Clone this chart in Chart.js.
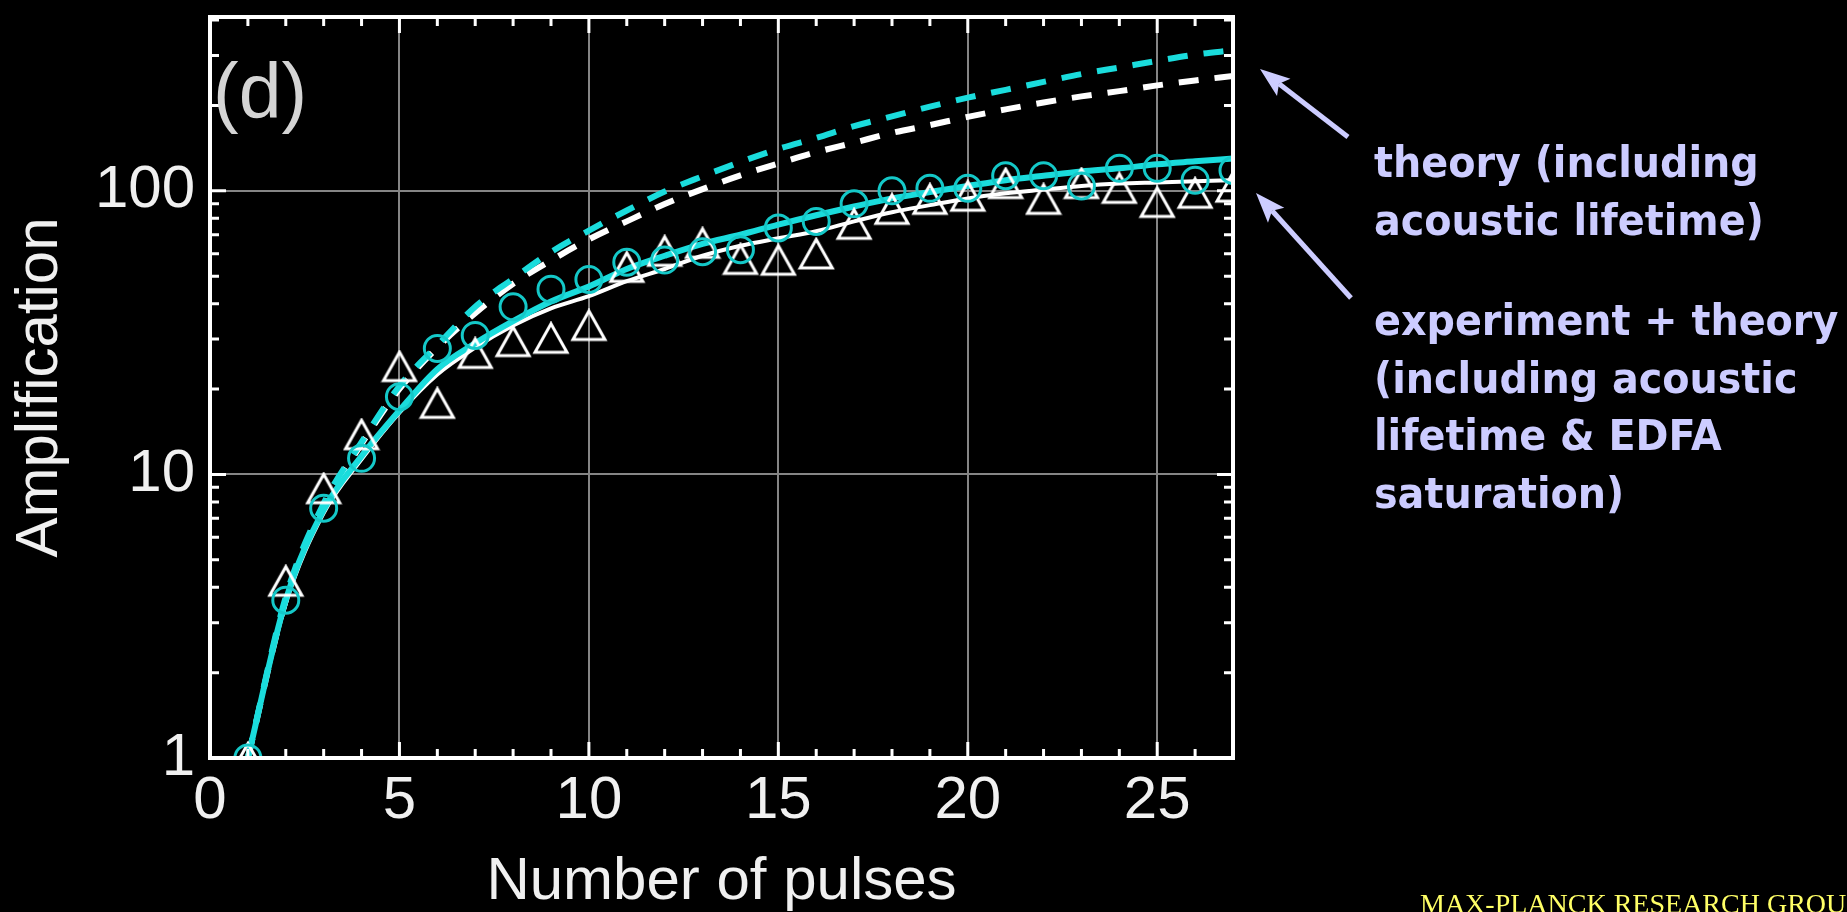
<!DOCTYPE html>
<html>
<head>
<meta charset="utf-8">
<title>Amplification vs number of pulses</title>
<script src="https://cdn.jsdelivr.net/npm/chart.js@4.4.1/dist/chart.umd.min.js"></script>
<style>
  html, body { margin: 0; padding: 0; background: #000; overflow: hidden; }
  #wrap { position: relative; width: 1847px; height: 912px; overflow: hidden; }
  #myChart { position: absolute; left: 0; top: 0; }
  .panel-tag {
    position: absolute; left: 213px; top: 53px;
    font-family: 'Liberation Sans', Arial, sans-serif; font-size: 77px; line-height: 77px;
    color: #d4d4d4;
  }
  .note {
    position: absolute; left: 1374px;
    font-family: 'DejaVu Sans', sans-serif; font-weight: bold;
    font-size: 42px; line-height: 57.5px; color: #ccccff;
    white-space: nowrap; transform: scaleX(0.945); transform-origin: 0 0;
  }
  .footer {
    position: absolute; left: 1420px; top: 890px;
    font-family: 'Liberation Serif', serif; font-size: 28px; line-height: 28px;
    color: #ffff66; white-space: nowrap;
  }
</style>
</head>
<body>
<div id="wrap">
  <canvas id="myChart" width="1847" height="912"></canvas>
  <div class="panel-tag">(d)</div>
  <div class="note" style="top:134px">theory (including<br>acoustic lifetime)</div>
  <div class="note" style="top:292px">experiment + theory<br>(including acoustic<br>lifetime &amp; EDFA<br>saturation)</div>
  <div class="footer">MAX-PLANCK RESEARCH GROUP</div>
</div>
<script>
// ------------------   DATA   ----------------
const pulses = [1, 2, 3, 4, 5, 6, 7, 8, 9, 10, 11, 12, 13, 14, 15, 16, 17, 18, 19, 20, 21, 22, 23, 24, 25, 26, 27];

// theory, acoustic lifetime only (dashed)
const theoryCyan = [1, 3.7, 7.9, 13, 20.5, 28.5, 39, 49, 60.8, 72.4, 85.2, 99.4, 112.5, 126.4, 140.5, 153.6, 169, 183, 198, 213, 227, 242, 258, 272, 287, 302, 313];
const theoryWhite = [1, 3.6, 7.7, 12.8, 20, 28, 37, 47, 56.8, 67.4, 78, 89.8, 101.4, 113.3, 124.8, 136.8, 147.8, 160, 170.4, 182.3, 193.6, 204.8, 215.2, 224.6, 235.3, 245, 254];

// theory incl. EDFA saturation (solid)
const satCyan = [1, 3.6, 7.5, 11.6, 16.8, 23.5, 29, 34.7, 40.7, 46, 53, 59, 65, 70, 76, 82, 88, 94, 99, 104, 109, 113, 117, 120, 124, 127, 130];
const satWhite = [1, 3.5, 7.3, 11.3, 16.5, 22.5, 28, 33.5, 38.5, 42.5, 48, 53, 59, 64, 68, 72, 78, 84, 89, 94, 98, 101, 104, 106, 107, 108, 109];

// measured points
const circlesCyan = [1, 3.6, 7.6, 11.4, 18.8, 27.8, 30.9, 39, 45, 48.7, 56, 57, 61, 62, 74, 78, 90, 100, 102, 102, 113, 113, 104, 120, 120, 109, 118];
const trianglesWhite = [1, 4.2, 8.9, 13.8, 24, 17.8, 26.7, 29.4, 30.2, 33.5, 53.7, 61.2, 65.3, 57.3, 56.9, 59.9, 76.2, 86, 93.3, 95.7, 106, 93.3, 106, 102, 91, 98, 103];

const xTickValues = [0, 5, 10, 15, 20, 25];
const yTickValues = [1, 10, 100];
const yMinorTicks = [2, 3, 4, 5, 6, 7, 8, 9, 20, 30, 40, 50, 60, 70, 80, 90, 200, 300, 400];

// ------------------   SELECTORS   ----------------
const ctx = document.getElementById('myChart').getContext('2d');

// ------------   FUNCTIONS   ----------------------
function toPoints(values) {
  return pulses.map((p, i) => ({ x: p, y: values[i] }));
}

function makeTriangle() {
  const c = document.createElement('canvas');
  c.width = 38;
  c.height = 34;
  const g = c.getContext('2d');
  g.strokeStyle = '#ffffff';
  g.lineWidth = 3;
  g.beginPath();
  g.moveTo(19, 2.5);
  g.lineTo(35, 31);
  g.lineTo(3, 31);
  g.closePath();
  g.stroke();
  return c;
}

function drawArrow(c, x0, y0, x1, y1) {
  const ang = Math.atan2(y1 - y0, x1 - x0);
  const head = 30;
  const half = 11;
  const bx = x1 - Math.cos(ang) * head;
  const by = y1 - Math.sin(ang) * head;
  const nx = x1 - Math.cos(ang) * (head - 6);
  const ny = y1 - Math.sin(ang) * (head - 6);
  c.beginPath();
  c.moveTo(x0, y0);
  c.lineTo(nx, ny);
  c.stroke();
  c.beginPath();
  c.moveTo(x1, y1);
  c.lineTo(bx - Math.sin(ang) * half, by + Math.cos(ang) * half);
  c.lineTo(nx, ny);
  c.lineTo(bx + Math.sin(ang) * half, by - Math.cos(ang) * half);
  c.closePath();
  c.fill();
}

// frame, inward ticks and the two arrows
const framePlugin = {
  id: 'framePlugin',
  afterDatasetsDraw(chart) {
    const { ctx: c, chartArea: a, scales: { x, y } } = chart;
    c.save();
    c.strokeStyle = '#ffffff';
    c.lineWidth = 3;
    c.beginPath();
    for (let v = 1; v < 27; v++) {
      const len = v % 5 === 0 ? 16 : 9;
      const px = x.getPixelForValue(v);
      c.moveTo(px, a.bottom);
      c.lineTo(px, a.bottom - len);
      c.moveTo(px, a.top);
      c.lineTo(px, a.top + len);
    }
    [10, 100].concat(yMinorTicks).forEach((v) => {
      const len = v === 10 || v === 100 ? 16 : 9;
      const py = y.getPixelForValue(v);
      c.moveTo(a.left, py);
      c.lineTo(a.left + len, py);
      c.moveTo(a.right, py);
      c.lineTo(a.right - len, py);
    });
    c.stroke();
    c.lineWidth = 4;
    c.strokeRect(a.left, a.top, a.right - a.left, a.bottom - a.top);
    c.restore();
  },
  afterDraw(chart) {
    const c = chart.ctx;
    c.save();
    c.strokeStyle = '#ccccff';
    c.fillStyle = '#ccccff';
    c.lineWidth = 5;
    drawArrow(c, 1348, 137, 1260, 69);
    drawArrow(c, 1351, 298, 1256, 193);
    c.restore();
  },
};

const axisFont = { family: "'Liberation Sans', Arial, sans-serif", size: 60 };

const myChart = new Chart(ctx, {
  type: 'line',
  data: {
    datasets: [
      {
        label: 'experiment (circles)',
        data: toPoints(circlesCyan),
        showLine: false,
        pointStyle: 'circle',
        pointRadius: 13,
        pointBorderWidth: 3,
        pointBorderColor: '#14c8c8',
        pointBackgroundColor: 'rgba(0,0,0,0)',
        clip: 0,
      },
      {
        label: 'experiment (triangles)',
        data: toPoints(trianglesWhite),
        showLine: false,
        pointStyle: makeTriangle(),
        pointRadius: 16,
        clip: 0,
      },
      {
        label: 'theory incl. saturation (cyan)',
        data: toPoints(satCyan),
        borderColor: '#1adcdc',
        borderWidth: 6,
        pointRadius: 0,
        cubicInterpolationMode: 'monotone',
        clip: 0,
      },
      {
        label: 'theory incl. saturation (white)',
        data: toPoints(satWhite),
        borderColor: '#ffffff',
        borderWidth: 4,
        pointRadius: 0,
        cubicInterpolationMode: 'monotone',
        clip: 0,
      },
      {
        label: 'theory (cyan)',
        data: toPoints(theoryCyan),
        borderColor: '#1adcdc',
        borderWidth: 6,
        borderDash: [20, 16],
        pointRadius: 0,
        cubicInterpolationMode: 'monotone',
        clip: 0,
      },
      {
        label: 'theory (white)',
        data: toPoints(theoryWhite),
        borderColor: '#ffffff',
        borderWidth: 6,
        borderDash: [20, 16],
        pointRadius: 0,
        cubicInterpolationMode: 'monotone',
        clip: 0,
      },
    ],
  },
  options: {
    responsive: false,
    animation: false,
    layout: { padding: { left: 0, top: 15, right: 614, bottom: 0 } },
    plugins: { legend: { display: false }, tooltip: { enabled: false } },
    scales: {
      x: {
        type: 'linear',
        min: 0,
        max: 27,
        afterBuildTicks: (s) => { s.ticks = xTickValues.map((v) => ({ value: v })); },
        afterFit: (s) => { s.height = 154; s.paddingLeft = 0; s.paddingRight = 0; },
        grid: { color: '#858585', lineWidth: 2, drawTicks: false },
        border: { display: false },
        ticks: { color: '#f0f0f0', font: axisFont, padding: 7, autoSkip: false, maxRotation: 0, callback: (v) => String(v) },
        title: { display: true, text: 'Number of pulses', color: '#f0f0f0', font: { ...axisFont, lineHeight: 1 }, padding: { top: 0, bottom: 0 } },
      },
      y: {
        type: 'logarithmic',
        min: 1,
        max: 410,
        afterBuildTicks: (s) => { s.ticks = yTickValues.map((v) => ({ value: v })); },
        afterFit: (s) => { s.width = 210; s.paddingTop = 0; s.paddingBottom = 0; },
        grid: { color: '#858585', lineWidth: 2, drawTicks: false },
        border: { display: false },
        ticks: { color: '#f0f0f0', font: axisFont, padding: 15, autoSkip: false, callback: (v) => String(v) },
        title: { display: true, text: 'Amplification', color: '#f0f0f0', font: { ...axisFont, lineHeight: 1 }, padding: { top: 10, bottom: 0 } },
      },
    },
  },
  plugins: [framePlugin],
});
</script>
</body>
</html>
